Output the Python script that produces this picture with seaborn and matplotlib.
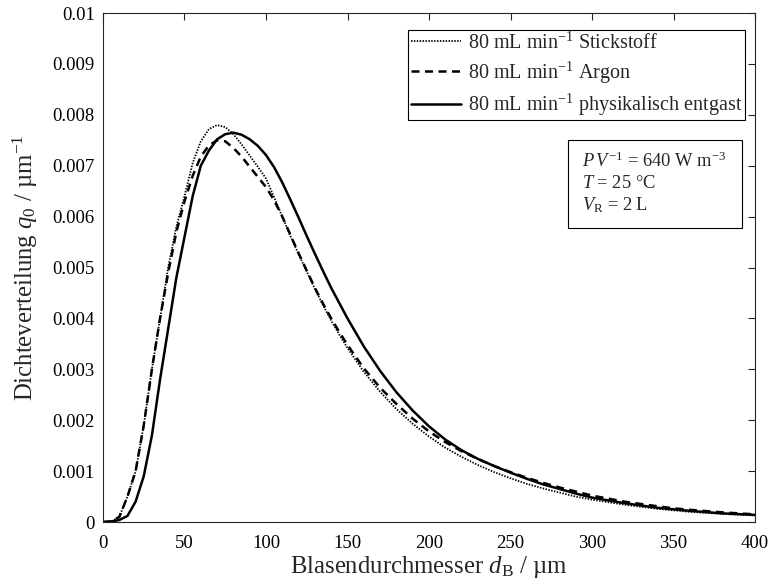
import numpy as np
import pandas as pd
import matplotlib
matplotlib.use("Agg")
import matplotlib.pyplot as plt
from matplotlib.patches import Rectangle
import seaborn as sns

# Bubble diameter grid (µm)
d_um = [0, 5, 10, 15, 20, 25, 30, 35, 40, 45, 50, 55, 60, 65, 70, 75, 80, 85, 90, 95,
        100, 105, 110, 115, 120, 125, 130, 135, 140, 145, 150, 160, 170, 180, 190, 200,
        210, 220, 230, 240, 250, 260, 270, 280, 290, 300, 320, 340, 350, 360, 380, 400]

# Number density distributions q0 (1/µm)
q_stickstoff = [0, 0.00001, 0.0001, 0.0005, 0.0010, 0.0019, 0.0030, 0.0040, 0.0050, 0.0058,
                0.0064, 0.00705, 0.00748, 0.00772, 0.0078, 0.00776, 0.00762, 0.00742, 0.0072, 0.00698,
                0.00675, 0.00638, 0.0060, 0.00562, 0.00526, 0.00492, 0.00458, 0.00426, 0.00396, 0.00368,
                0.00342, 0.00295, 0.00256, 0.00222, 0.00193, 0.00168, 0.00146, 0.00128, 0.00112,
                0.00098, 0.00086, 0.00075, 0.00066, 0.00058, 0.0005, 0.00044, 0.00034, 0.00026,
                0.00023, 0.0002, 0.00016, 0.00013]

q_argon = [0, 0.00001, 0.0001, 0.0005, 0.0010, 0.0019, 0.0030, 0.0040, 0.0049, 0.0057,
           0.0063, 0.0068, 0.00718, 0.0074, 0.0075, 0.00748, 0.00735, 0.00718, 0.00698, 0.00678,
           0.00658, 0.00632, 0.0060, 0.00564, 0.00528, 0.00494, 0.0046, 0.00429, 0.004, 0.00373,
           0.00348, 0.00302, 0.00264, 0.00232, 0.00203, 0.00178, 0.00157, 0.00139, 0.00124,
           0.0011, 0.00098, 0.00087, 0.00077, 0.00068, 0.0006, 0.00052, 0.0004, 0.00031,
           0.00027, 0.00024, 0.00019, 0.00015]

q_entgast = [0, 0.00001, 0.00004, 0.00012, 0.0004, 0.0009, 0.0017, 0.0028, 0.0038, 0.0048,
             0.0056, 0.0064, 0.0070, 0.0073, 0.00752, 0.00762, 0.00765, 0.00761, 0.00752, 0.00739,
             0.00721, 0.00697, 0.00667, 0.00633, 0.00598, 0.00562, 0.00527, 0.00493, 0.0046, 0.0043,
             0.0040, 0.00345, 0.00297, 0.00255, 0.00219, 0.00188, 0.00162, 0.00141, 0.00124,
             0.0011, 0.00097, 0.00085, 0.00074, 0.00065, 0.00056, 0.00048, 0.00037, 0.00028,
             0.00025, 0.00022, 0.00017, 0.00014]

labels = [r"80 mL min$^{\mathregular{-1}}$ Stickstoff",
          r"80 mL min$^{\mathregular{-1}}$ Argon",
          r"80 mL min$^{\mathregular{-1}}$ physikalisch entgast"]

x_ticks = [0, 50, 100, 150, 200, 250, 300, 350, 400]
y_ticks = [0, 0.001, 0.002, 0.003, 0.004, 0.005, 0.006, 0.007, 0.008, 0.009, 0.01]
y_ticklabels = ["0", "0.001", "0.002", "0.003", "0.004", "0.005", "0.006",
                "0.007", "0.008", "0.009", "0.01"]

sns.set_theme(style="white")
plt.rcParams["font.family"] = ["Liberation Serif", "DejaVu Serif"]
plt.rcParams["mathtext.fontset"] = "custom"
plt.rcParams["mathtext.rm"] = "Liberation Serif"
plt.rcParams["mathtext.it"] = "Liberation Serif:italic"
plt.rcParams["mathtext.bf"] = "Liberation Serif:bold"

fig = plt.figure(figsize=(7.75, 5.88), dpi=100)
ax = fig.add_axes([0.1329, 0.1122, 0.8413, 0.8656])

styles = [dict(linestyle=(0, (0.8, 0.8)), linewidth=1.3),
          dict(linestyle=(0, (3.2, 2.2)), linewidth=1.8),
          dict(linestyle="-", linewidth=1.8)]

for q, lab, st in zip([q_stickstoff, q_argon, q_entgast], labels, styles):
    df = pd.DataFrame({"d": d_um, "q": q})
    sns.lineplot(data=df, x="d", y="q", ax=ax, color="black", label=lab, **st)

ax.set_xlim(0, 400)
ax.set_ylim(0, 0.01)
ax.set_xticks(x_ticks)
ax.set_yticks(y_ticks)
ax.set_yticklabels(y_ticklabels)
ax.tick_params(direction="in", length=5, width=0.8, top=True, right=True,
               labelsize=13.5, colors="#262626", labelcolor="black", pad=6)
ax.tick_params(axis="x", pad=9)
for s in ax.spines.values():
    s.set_color("#262626")
    s.set_linewidth(0.8)

ax.set_xlabel(r"Blasendurchmesser $d_{\mathregular{B}}$ / µm", fontsize=17.8, labelpad=2)
ax.set_ylabel(r"Dichteverteilung $q_{\mathregular{0}}$ / µm$^{\mathregular{-1}}$", fontsize=17.8, labelpad=9)

leg = ax.legend(loc="upper right", bbox_to_anchor=(0.985, 0.967), fontsize=14.5,
                frameon=True, fancybox=False, edgecolor="black", framealpha=1,
                handlelength=2.5, handletextpad=0.35, borderpad=0.12, labelspacing=0.3,
                borderaxespad=0)
leg.get_frame().set_linewidth(0.8)

# Operating conditions box
ax.add_patch(Rectangle((0.7132, 0.5776), 0.2668, 0.1729, transform=ax.transAxes,
                       facecolor="white", edgecolor="black", linewidth=0.8, zorder=5))
ax.text(0.7347, 0.728,
        "$P\\,V^{-1}$ = 640 W m$^{-3}$\n$T$ = 25 °C\n$V_{\\mathregular{R}}$ = 2 L",
        transform=ax.transAxes, fontsize=13.3, va="top", ha="left", linespacing=1.28,
        zorder=6)

fig.savefig("out.png", dpi=100)
